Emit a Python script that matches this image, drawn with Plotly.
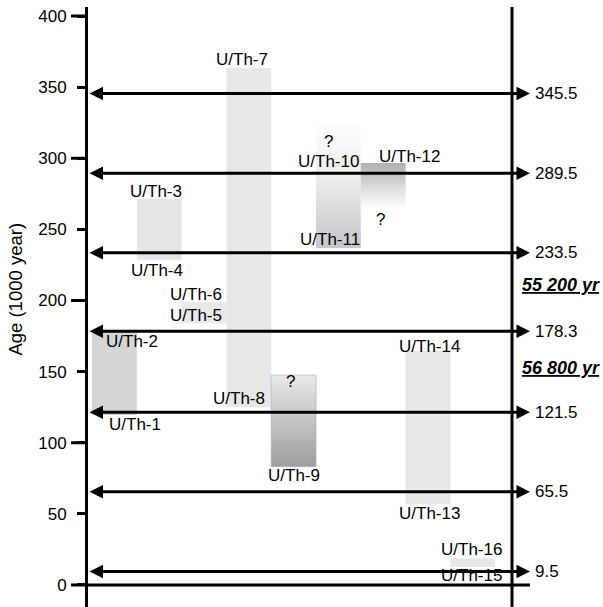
import plotly.graph_objects as go

# ---------------- data ----------------
arrow_ages = [345.5, 289.5, 233.5, 178.3, 121.5, 65.5, 9.5]
y_ticks_major = [0, 100, 200, 300, 400]
y_ticks_minor = [50, 150, 250, 350]

# sample bars: column index, top / bottom age (ka), fill colours (top, bottom)
bar_column = [0, 1, 2, 3, 4, 5, 5, 6, 7, 8]
bar_top = [178.0, 271.5, 198.7, 363.5, 147.6, 325.5, 289.5, 296.7, 164.5, 18.8]
bar_bottom = [119.5, 228.7, 184.0, 124.9, 83.2, 289.5, 236.7, 264.8, 56.7, 12.7]
bar_color_top = ['#d5d5d5', '#e5e5e5', '#e8e8e8', '#e7e7e7', '#e9e9e9',
                 '#ffffff', '#eeeeee', '#b0b0b0', '#e7e7e7', '#e7e7e7']
bar_color_bottom = ['#d5d5d5', '#e5e5e5', '#e8e8e8', '#e7e7e7', '#9e9e9e',
                    '#efefef', '#c6c6cb', '#ffffff', '#e7e7e7', '#e7e7e7']
bar_outline = [None, None, None, None, 'rgba(175,165,210,0.6)', None, None, None, None, None]

# sample labels: text, column position, age position
label_text = ['U/Th-1', 'U/Th-2', 'U/Th-3', 'U/Th-4', 'U/Th-5', 'U/Th-6', 'U/Th-7',
              'U/Th-8', '?', 'U/Th-9', '?', 'U/Th-10', 'U/Th-11', 'U/Th-12', '?',
              'U/Th-13', 'U/Th-14', 'U/Th-15', 'U/Th-16']
label_col = [0.45, 0.39, 0.92, 0.95, 1.82, 1.82, 2.84,
             2.78, 3.94, 4.01, 4.79, 4.78, 4.81, 6.59, 5.94,
             7.04, 7.03, 7.96, 7.98]
label_age = [113.0, 171.5, 276.5, 221.0, 189.8, 203.9, 369.6,
             131.2, 143.4, 77.3, 311.6, 297.6, 243.2, 301.1, 256.6,
             50.4, 167.5, 7.0, 25.1]

note_text = ['55 200 yr', '56 800 yr']
note_age = [210.9, 152.3]

y_title = 'Age (1000 year)'
y_title_age = 208.0

# ---------------- layout geometry ----------------
W, H = 603, 607
ML = 88
COL_W = 44.8          # px per column
COL0 = 114.4          # px centre of column 0
x_min = (ML - COL0) / COL_W
x_max = (W - COL0) / COL_W
y_min, y_max = -15.47, 411.25
x_right_axis = (512 - COL0) / COL_W
x_arrow_tip = (530 - COL0) / COL_W
x_value_label = (533 - COL0) / COL_W
x_note = (520 - COL0) / COL_W
axis_top = 406.3
PLOT_W = W - ML

FONT = 'Arial, "Liberation Sans", sans-serif'
FS = 17

fig = go.Figure()

# bars
for c, t, b, ct, cb, ol in zip(bar_column, bar_top, bar_bottom,
                               bar_color_top, bar_color_bottom, bar_outline):
    xs = [c - 0.5, c + 0.5, c + 0.5, c - 0.5, c - 0.5]
    ys = [b, b, t, t, b]
    tr = dict(x=xs, y=ys, mode='lines', fill='toself', showlegend=False,
              hoverinfo='skip')
    if ct == cb:
        tr['fillcolor'] = ct
    else:
        tr['fillgradient'] = dict(type='vertical', colorscale=[[0, cb], [1, ct]])
    if ol:
        tr['line'] = dict(color=ol, width=1)
    else:
        tr['line'] = dict(width=0)
    fig.add_trace(go.Scatter(**tr))

# zero baseline
fig.add_trace(go.Scatter(x=[x_min, x_arrow_tip], y=[0, 0], mode='lines',
                         line=dict(color='black', width=3), showlegend=False,
                         hoverinfo='skip'))
# right vertical axis line
fig.add_trace(go.Scatter(x=[x_right_axis, x_right_axis], y=[y_min, axis_top],
                         mode='lines', line=dict(color='black', width=3),
                         showlegend=False, hoverinfo='skip'))

shapes = []
# left vertical axis line
shapes.append(dict(type='line', xref='paper', yref='y', x0=-1.5 / PLOT_W,
                   x1=-1.5 / PLOT_W, y0=y_min, y1=axis_top,
                   line=dict(color='black', width=3)))
# long ticks at the hundreds
for v in y_ticks_major:
    shapes.append(dict(type='line', xref='paper', yref='y', x0=-17 / PLOT_W, x1=0,
                       y0=v, y1=v, line=dict(color='black', width=3)))

annotations = []
# double-headed arrows + value labels
for v in arrow_ages:
    annotations.append(dict(
        x=x_arrow_tip, y=v, xref='x', yref='y',
        ax=x_min, ay=v, axref='x', ayref='y',
        text='', showarrow=True, arrowside='end+start',
        arrowhead=2, startarrowhead=2, arrowwidth=3,
        arrowsize=0.9, startarrowsize=0.9, standoff=0, startstandoff=0,
        arrowcolor='black'))
    annotations.append(dict(
        x=x_value_label, y=v, xref='x', yref='y', text=f'{v}',
        showarrow=False, xanchor='left', yanchor='middle',
        font=dict(family=FONT, size=FS, color='black')))

for t, c, a in zip(label_text, label_col, label_age):
    annotations.append(dict(
        x=c, y=a, xref='x', yref='y', text=t, showarrow=False,
        xanchor='center', yanchor='middle',
        font=dict(family=FONT, size=FS, color='black')))

for t, a in zip(note_text, note_age):
    annotations.append(dict(
        x=x_note, y=a, xref='x', yref='y', text=t, showarrow=False,
        xanchor='left', yanchor='middle',
        font=dict(family=FONT, size=18, color='black', weight='bold',
                  style='italic', lineposition='under')))

annotations.append(dict(
    x=(15.5 - ML) / PLOT_W, y=y_title_age, xref='paper', yref='y', text=y_title,
    showarrow=False, textangle=-90, xanchor='center', yanchor='middle',
    font=dict(family=FONT, size=18.5, color='black')))

fig.update_layout(
    width=W, height=H,
    margin=dict(l=ML, r=0, t=0, b=0, pad=0),
    paper_bgcolor='white', plot_bgcolor='white',
    showlegend=False,
    shapes=shapes, annotations=annotations,
    xaxis=dict(range=[x_min, x_max], visible=False, fixedrange=True),
    yaxis=dict(range=[y_min, y_max], tickvals=y_ticks_major + y_ticks_minor,
               ticks='outside', ticklen=10, tickwidth=3, tickcolor='black',
               showline=False, showgrid=False, zeroline=False,
               tickfont=dict(family=FONT, size=FS, color='black'),
               ticklabelstandoff=7),
)

fig.write_html('out.html')
